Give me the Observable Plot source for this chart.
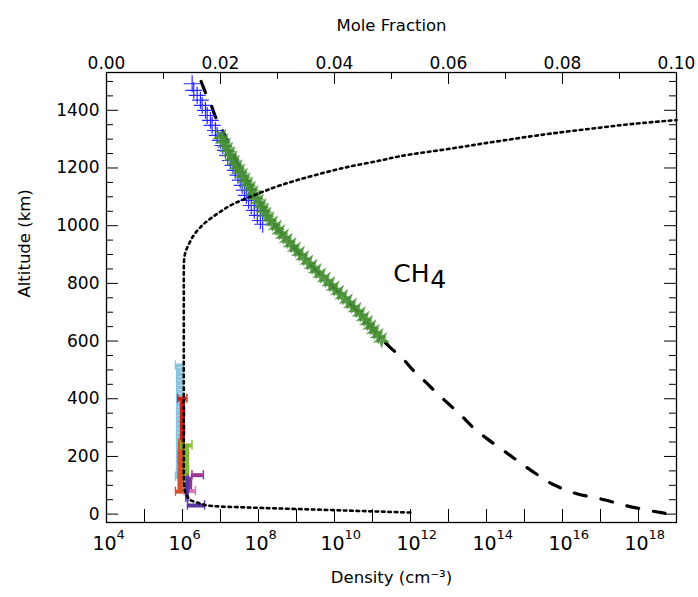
<!DOCTYPE html>
<html><head><meta charset="utf-8">
<script src="https://cdn.jsdelivr.net/npm/d3@7"></script>
<script src="https://cdn.jsdelivr.net/npm/@observablehq/plot@0.6"></script>
<style>
html,body{margin:0;padding:0;background:#fff;}
#wrap{position:relative;width:698px;height:597px;}
#wrap svg{position:absolute;left:0;top:0;}
</style></head><body><div id="wrap"></div>
<script>
// ---- Tick values ----
const altMajor = [0,200,400,600,800,1000,1200,1400];
const altMinor = [50,100,150,250,300,350,450,500,550,650,700,750,850,900,950,1050,1100,1150,1250,1300,1350,1450,1500];
const densDecades = [1e4,1e5,1e6,1e7,1e8,1e9,1e10,1e11,1e12,1e13,1e14,1e15,1e16,1e17,1e18,1e19];
const densLabelExp = [4,6,8,10,12,14,16,18];
const mfMajor = [0,0.02,0.04,0.06,0.08,0.10];
const mfMinor = [0.01,0.03,0.05,0.07,0.09];

// ---- Model density profile (dashed, bottom axis) ----
const dashAlt  = [1500,1460,1420,1380,1340,1300,1260,1220,1180,1140,1100,1060,1020,980,940,900,860,820,780,740,700,660,620,580,540,500,460,420,380,340,300,260,220,180,140,100,70,50,30,15,5,0];
const dashDens = [3.09e6,4.07e6,5.62e6,7.24e6,1.05e7,1.45e7,2.00e7,2.75e7,3.89e7,5.62e7,8.71e7,1.32e8,2.09e8,3.72e8,6.76e8,1.29e9,2.57e9,5.25e9,1.07e10,2.19e10,4.37e10,7.94e10,1.41e11,2.82e11,6.17e11,1.15e12,2.40e12,4.90e12,1.05e13,2.24e13,4.47e13,1.07e14,2.82e14,7.41e14,2.00e15,6.31e15,2.51e16,1.26e17,4.47e17,1.58e18,3.98e18,7.08e18];

// ---- Model mole fraction profile (dotted, top axis) ----
const dotAlt = [5.6,8.7,12.5,17.4,21.2,25.3,26.4,28.8,31,34.7,40,46,57.6,86.8,150,860,900,940,975,1006,1041,1076,1105,1140,1174,1203,1226,1240,1267,1294,1319,1340,1352,1366];
const dotMF  = [0.0533,0.0481,0.0421,0.0340,0.0277,0.0214,0.0200,0.0182,0.0174,0.0168,0.0159,0.0150,0.0143,0.0137,0.01356,0.01356,0.01375,0.01455,0.01560,0.01707,0.01942,0.02233,0.02584,0.03053,0.03637,0.04223,0.04807,0.05128,0.06035,0.06912,0.07789,0.08667,0.09193,0.1];

// ---- Blue + observations (density) ----
const blueAlt  = [1492,1469,1452,1435,1417,1400,1382,1365,1348,1330,1313,1296,1278,1261,1244,1226,1209,1192,1175,1158,1140,1123,1105,1088,1070,1053,1036,1018,1005];
const blueDens = [1.795e6,1.977e6,2.432e6,2.965e6,3.289e6,4.018e6,4.457e6,5.433e6,6.026e6,7.362e6,8.166e6,9.954e6,1.148e7,1.349e7,1.549e7,1.820e7,2.138e7,2.455e7,2.884e7,3.311e7,3.715e7,4.266e7,4.786e7,5.495e7,6.457e7,7.762e7,9.333e7,1.122e8,1.288e8];

// ---- Green star observations (density) ----
const greenAlt  = [1310,1295,1280,1265,1250,1235,1220,1205,1190,1175,1160,1145,1130,1115,1100,1085,1070,1055,1040,1025,1010,995,980,965,950,935,920,905,890,875,860,845,830,815,800,785,770,755,740,725,710,695,680,665,650,635,620,605];
const greenDens = [1.023e7,1.175e7,1.349e7,1.549e7,1.778e7,2.042e7,2.344e7,2.754e7,3.236e7,3.802e7,4.467e7,5.248e7,6.166e7,7.244e7,8.511e7,1.000e8,1.175e8,1.380e8,1.585e8,1.905e8,2.344e8,2.951e8,3.631e8,4.571e8,5.754e8,7.244e8,9.333e8,1.202e9,1.549e9,1.995e9,2.570e9,3.311e9,4.365e9,5.754e9,7.586e9,9.772e9,1.288e10,1.660e10,2.188e10,2.818e10,3.715e10,4.786e10,6.026e10,7.413e10,9.120e10,1.122e11,1.413e11,1.738e11];

// ---- Low-altitude mole fraction measurements (top axis) ----
const skyAlt = [515,500,485,470,455,440,425,410,395,380,365,350,335,320,305,290,275,260,245,230,215,200,185,170,155,140,130];
const skyMF  = [0.0128,0.0128,0.0129,0.0128,0.0128,0.0129,0.0128,0.0128,0.0128,0.0129,0.0128,0.0128,0.0128,0.0128,0.0129,0.0128,0.0128,0.0128,0.0128,0.0128,0.0129,0.0128,0.0128,0.0128,0.0128,0.0128,0.0128];
const skyErr = [0.0007,0.0005,0.0005,0.0005,0.0005,0.0005,0.0005,0.0005,0.0005,0.0005,0.0005,0.0005,0.0005,0.0005,0.0005,0.0005,0.0005,0.0005,0.0005,0.0005,0.0005,0.0005,0.0005,0.0005,0.0005,0.0005,0.0007];
const redAlt = [400,388,376,364,352,340,328,316,304,292,280,268,256,246];
const redMF  = [0.0133,0.0133,0.0133,0.0133,0.0134,0.0133,0.0133,0.0133,0.0133,0.0134,0.0133,0.0133,0.0133,0.0133];
const redErr = [0.0008,0.0003,0.0003,0.0003,0.0003,0.0003,0.0003,0.0003,0.0003,0.0003,0.0003,0.0003,0.0003,0.0003];
const orgAlt = [245,233,221,209,197,185,173,161,149,137,125,113,101,89,78];
const orgMF  = [0.0131,0.0131,0.0131,0.0130,0.0131,0.0130,0.0131,0.0131,0.0130,0.0131,0.0130,0.0130,0.0131,0.0130,0.0130];
const orgErr = [0.0004,0.0004,0.0004,0.0004,0.0004,0.0004,0.0004,0.0004,0.0004,0.0004,0.0004,0.0004,0.0004,0.0004,0.0009];
const grnAlt = [238,226,214,202,190,178,166,154,142,130];
const grnMF  = [0.0140,0.0140,0.0140,0.0141,0.0140,0.0140,0.0140,0.0141,0.0140,0.0140];
const grnErr = [0.0010,0.0003,0.0003,0.0003,0.0003,0.0003,0.0003,0.0003,0.0003,0.0003];
const magAlt = [135,122,110,98,88];
const magMF  = [0.0160,0.0146,0.0146,0.0145,0.0146];
const magErr = [0.0010,0.0003,0.0003,0.0003,0.0003];
const pnkAlt = [80];
const pnkMF  = [0.0146];
const pnkErr = [0.0010];
const indAlt = [115,103,91,79,67,57,30];
const indMF  = [0.0142,0.0142,0.0142,0.0141,0.0141,0.0141,0.0157];
const indErr = [0.0002,0.0002,0.0002,0.0002,0.0002,0.0002,0.0015];

// ---- Label ----
const chemName = ["CH"], chemSub = ["4"], chemDens = [3.5e11], chemAlt = [804];

// ---- build tables ----
const zip = (a, b, ka, kb) => a.map((v, i) => ({[ka]: v, [kb]: b[i]}));
const dash = zip(dashAlt, dashDens, "alt", "d");
const dotted = zip(dotAlt, dotMF, "alt", "f");
const blue = zip(blueAlt, blueDens, "alt", "d");
const green = zip(greenAlt, greenDens, "alt", "d");
const mk = (alt, f, e) => alt.map((a, i) => ({alt: a, f: f[i], e: e[i]}));
const errSeries = [
  {data: mk(skyAlt, skyMF, skyErr), color: "#8cc3de"},
  {data: mk(redAlt, redMF, redErr), color: "#c8201e"},
  {data: mk(orgAlt, orgMF, orgErr), color: "#d2502a"},
  {data: mk(grnAlt, grnMF, grnErr), color: "#80b833"},
  {data: mk(magAlt, magMF, magErr), color: "#9a3592"},
  {data: mk(pnkAlt, pnkMF, pnkErr), color: "#d57ab8"},
  {data: mk(indAlt, indMF, indErr), color: "#5836a2"}
];
const chem = chemName.map((n, i) => ({name: n, sub: chemSub[i], d: chemDens[i], alt: chemAlt[i]}));

// ---- layout ----
const W = 698, H = 597, ML = 106, MR = 22, MT = 72, MB = 75;
const FW = W - ML - MR, FH = H - MT - MB;
const font = "'DejaVu Sans', sans-serif";
const common = {
  width: W, height: H, marginLeft: ML, marginRight: MR, marginTop: MT, marginBottom: MB,
  y: {domain: [-29, 1531], axis: null},
  style: {fontFamily: font, background: "transparent", overflow: "visible", color: "black"}
};

const plotA = Plot.plot({
  ...common,
  x: {type: "log", domain: [1e4, 1e19], axis: null},
  marks: [
    Plot.line(dash, {x: "d", y: "alt", stroke: "black", strokeWidth: 3.2, strokeDasharray: "12,15", curve: "monotone-y"}),
    Plot.dot(blue, {x: "d", y: "alt", symbol: "plus", r: 5.5, stroke: "#1414ff", strokeWidth: 1.2, strokeOpacity: 0.9}),
    Plot.dot(green, {x: "d", y: "alt", symbol: "star", r: 5.2, fill: "#3f8a2d", fillOpacity: 0.85, stroke: "#6aa85a", strokeWidth: 0.6, strokeOpacity: 0.6, rotate: 180}),
    Plot.frame({stroke: "black", strokeWidth: 1.3}),
    Plot.tickX(densDecades, {x: d => d, insetTop: FH - 13, stroke: "black"}),
    Plot.tickY(altMajor, {y: d => d, insetRight: FW - 12, stroke: "black"}),
    Plot.tickY(altMinor, {y: d => d, insetRight: FW - 7, stroke: "black"}),
    Plot.tickY(altMajor, {y: d => d, insetLeft: FW - 12, stroke: "black"}),
    Plot.tickY(altMinor, {y: d => d, insetLeft: FW - 7, stroke: "black"}),
    Plot.text(altMajor, {y: d => d, frameAnchor: "left", dx: -7, textAnchor: "end", text: d => String(d), fontSize: 17, fill: "black"}),
    Plot.text(densLabelExp, {x: d => 10 ** d, frameAnchor: "bottom", dy: 27, dx: -2, text: () => "10", fontSize: 19, fill: "black"}),
    Plot.text(densLabelExp, {x: d => 10 ** d, frameAnchor: "bottom", dy: 16, dx: 10, textAnchor: "start", text: d => String(d), fontSize: 13, fill: "black"}),
    Plot.text(["Density (cm⁻³)"], {frameAnchor: "bottom", dy: 60, text: d => d, fontSize: 16.5, fill: "black"}),
    Plot.text(["Altitude (km)"], {frameAnchor: "left", dx: -82, rotate: -90, text: d => d, fontSize: 16.5, fill: "black"}),
    Plot.text(chem, {x: "d", y: "alt", text: "name", textAnchor: "start", lineAnchor: "bottom", fontSize: 25, fill: "black"}),
    Plot.text(chem, {x: "d", y: "alt", text: "sub", textAnchor: "start", lineAnchor: "bottom", dx: 37, dy: 6, fontSize: 25, fill: "black"})
  ]
});

const errMarks = [];
for (const s of errSeries) {
  errMarks.push(Plot.ruleY(s.data, {y: "alt", x1: d => d.f - d.e, x2: d => d.f + d.e, stroke: s.color, strokeWidth: 4}));
  errMarks.push(Plot.ruleX(s.data, {x: d => d.f - d.e, y1: d => d.alt - 16, y2: d => d.alt + 16, stroke: s.color, strokeWidth: 1.4}));
  errMarks.push(Plot.ruleX(s.data, {x: d => d.f + d.e, y1: d => d.alt - 16, y2: d => d.alt + 16, stroke: s.color, strokeWidth: 1.4}));
}

const plotB = Plot.plot({
  ...common,
  x: {domain: [0, 0.1], axis: null},
  marks: [
    ...errMarks,
    Plot.line(dotted, {x: "f", y: "alt", stroke: "black", strokeWidth: 2.6, strokeDasharray: "2.6,3.8", curve: "monotone-y"}),
    Plot.tickX(mfMajor, {x: d => d, insetBottom: FH - 12, stroke: "black"}),
    Plot.tickX(mfMinor, {x: d => d, insetBottom: FH - 7, stroke: "black"}),
    Plot.text(mfMajor, {x: d => d, frameAnchor: "top", dy: -16, text: d => d.toFixed(2), fontSize: 17, fill: "black"}),
    Plot.text(["Mole Fraction"], {frameAnchor: "top", dy: -53, text: d => d, fontSize: 16.5, fill: "black"})
  ]
});

const wrap = document.getElementById("wrap");
wrap.appendChild(plotA);
wrap.appendChild(plotB);
</script></body></html>
